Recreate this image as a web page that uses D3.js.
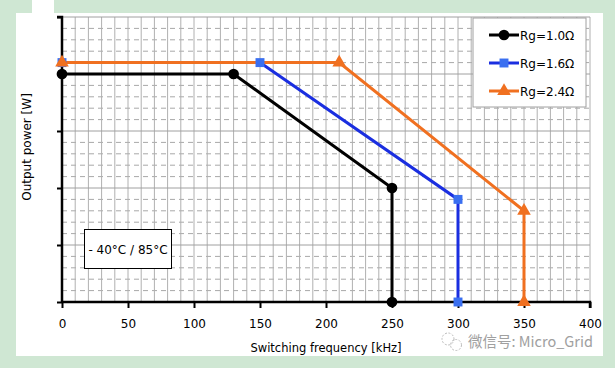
<!DOCTYPE html>
<html><head><meta charset="utf-8">
<script src="https://cdn.jsdelivr.net/npm/d3@7"></script>
<style>html,body{margin:0;padding:0;background:#cfe7d3;}svg{display:block;font-family:"DejaVu Sans",Verdana,sans-serif;}</style>
</head><body>
<svg id="c" width="615" height="368"></svg>
<script>
const xTicks = [0, 50, 100, 150, 200, 250, 300, 350, 400];
const seriesNames = ["Rg=1.0Ω", "Rg=1.6Ω", "Rg=2.4Ω"];
const freq10 = [0, 130, 250, 250];
const power10 = [4.0, 4.0, 2.0, 0];
const freq16 = [0, 150, 300, 300];
const power16 = [4.2, 4.2, 1.8, 0];
const freq24 = [0, 210, 350, 350];
const power24 = [4.2, 4.2, 1.6, 0];
const colors = ["#000000", "#1a2ee0", "#f07020"];
const markerColors = ["#000000", "#3a6ff0", "#f07020"];
const markerShapes = [d3.symbolCircle, d3.symbolSquare, d3.symbolTriangle];
const markerSizes = [90, 80, 80];

const series = [
  {name: seriesNames[0], x: freq10, y: power10},
  {name: seriesNames[1], x: freq16, y: power16},
  {name: seriesNames[2], x: freq24, y: power24}
];

const svg = d3.select("#c");
// white panel
svg.append("rect").attr("x", 16).attr("y", 13).attr("width", 587).attr("height", 343).attr("fill", "#fff");
svg.append("rect").attr("x", 32).attr("y", 0).attr("width", 22).attr("height", 14).attr("fill", "#fff");

const x = d3.scaleLinear().domain([0, 400]).range([62, 590]);
const y = d3.scaleLinear().domain([0, 5]).range([302, 17]);

const g = svg.append("g");
// horizontal dashed minor grid
g.selectAll("line.hm").data(d3.range(0, 5.01, 0.2).map(v => +v.toFixed(1)).filter(v => Math.abs(v - Math.round(v)) > 0.01))
  .join("line").attr("x1", x(0)).attr("x2", x(400)).attr("y1", d => y(d)).attr("y2", d => y(d))
  .attr("stroke", "#a8a8a8").attr("stroke-width", 1).attr("stroke-dasharray", "5,4");
// vertical grid every 10
g.selectAll("line.v").data(d3.range(10, 401, 10))
  .join("line").attr("x1", d => x(d)).attr("x2", d => x(d)).attr("y1", y(0)).attr("y2", y(5))
  .attr("stroke", "#b0b0b0").attr("stroke-width", 1);
// horizontal major solid
g.selectAll("line.hM").data([1, 2, 3, 4, 5])
  .join("line").attr("x1", x(0)).attr("x2", x(400)).attr("y1", d => y(d)).attr("y2", d => y(d))
  .attr("stroke", "#a0a0a0").attr("stroke-width", 1);

// axes
const xAxis = d3.axisBottom(x).tickValues(xTicks).tickSize(6).tickPadding(11).tickFormat(d3.format("d"));
const xg = svg.append("g").attr("transform", `translate(0,${y(0)})`).call(xAxis);
xg.select(".domain").attr("stroke", "#000").attr("stroke-width", 2.5).attr("d", `M${x(0)},0H${x(400)}V6`);
xg.selectAll(".tick line").attr("stroke", "#000").attr("stroke-width", 2);
xg.selectAll(".tick text").attr("font-size", 12).attr("fill", "#000").attr("font-family", "DejaVu Sans, Verdana, sans-serif");

const yAxis = d3.axisLeft(y).tickValues([0, 1, 2, 3, 4, 5]).tickSize(5).tickFormat("");
const yg = svg.append("g").attr("transform", `translate(${x(0)},0)`).call(yAxis);
yg.select(".domain").attr("stroke", "#000").attr("stroke-width", 2.5).attr("d", `M-5,${y(5)}H0V${y(0)}`);
yg.selectAll(".tick line").attr("stroke", "#000").attr("stroke-width", 2);

// series lines
const line = d3.line().x(d => x(d[0])).y(d => y(d[1]));
series.forEach((s, i) => {
  const pts = s.x.map((v, j) => [v, s.y[j]]);
  svg.append("path").datum(pts).attr("d", line).attr("fill", "none")
    .attr("stroke", colors[i]).attr("stroke-width", 3).attr("stroke-linejoin", "miter");
});
series.forEach((s, i) => {
  const pts = s.x.map((v, j) => [v, s.y[j]]);
  svg.append("g").selectAll("path").data(pts).join("path")
    .attr("transform", d => `translate(${x(d[0])},${y(d[1])})`)
    .attr("d", d3.symbol().type(markerShapes[i]).size(markerSizes[i]))
    .attr("fill", markerColors[i]);
});

// legend
const lg = svg.append("g");
lg.append("rect").attr("x", 473).attr("y", 18).attr("width", 113).attr("height", 89)
  .attr("fill", "#fff").attr("stroke", "#a0a0a0").attr("stroke-width", 1);
series.forEach((s, i) => {
  const ly = 35 + i * 28;
  lg.append("line").attr("x1", 489).attr("x2", 519).attr("y1", ly).attr("y2", ly)
    .attr("stroke", colors[i]).attr("stroke-width", 3);
  lg.append("path").attr("transform", `translate(504,${ly})`)
    .attr("d", d3.symbol().type(markerShapes[i]).size(markerSizes[i])).attr("fill", markerColors[i]);
  lg.append("text").attr("x", 520).attr("y", ly + 4.5).attr("font-size", 12).attr("fill", "#000").text(s.name);
});

// annotation box
svg.append("rect").attr("x", 84.5).attr("y", 229.5).attr("width", 87).attr("height", 39)
  .attr("fill", "#fff").attr("stroke", "#000").attr("stroke-width", 1);
svg.append("text").attr("x", 128).attr("y", 253.5).attr("text-anchor", "middle").attr("font-size", 12).text("- 40°C / 85°C");

// axis titles
svg.append("text").attr("x", 326).attr("y", 352).attr("text-anchor", "middle").attr("font-size", 11.5).text("Switching frequency [kHz]");
svg.append("text").attr("transform", "translate(31,147) rotate(-90)").attr("text-anchor", "middle").attr("font-size", 12).text("Output power [W]");

// watermark
const wm = svg.append("g").attr("fill", "none").attr("stroke", "#bdbdbd").attr("stroke-width", 1).attr("stroke-dasharray", "2,1.5");
wm.append("circle").attr("cx", 448).attr("cy", 339).attr("r", 6);
wm.append("circle").attr("cx", 456).attr("cy", 345).attr("r", 5.5);
svg.append("text").attr("x", 468).attr("y", 347).attr("font-size", 14.5).attr("fill", "#a0a0a0")
  .attr("font-family", "Noto Sans CJK SC, DejaVu Sans, sans-serif").text("微信号: Micro_Grid");
</script>
</body></html>
